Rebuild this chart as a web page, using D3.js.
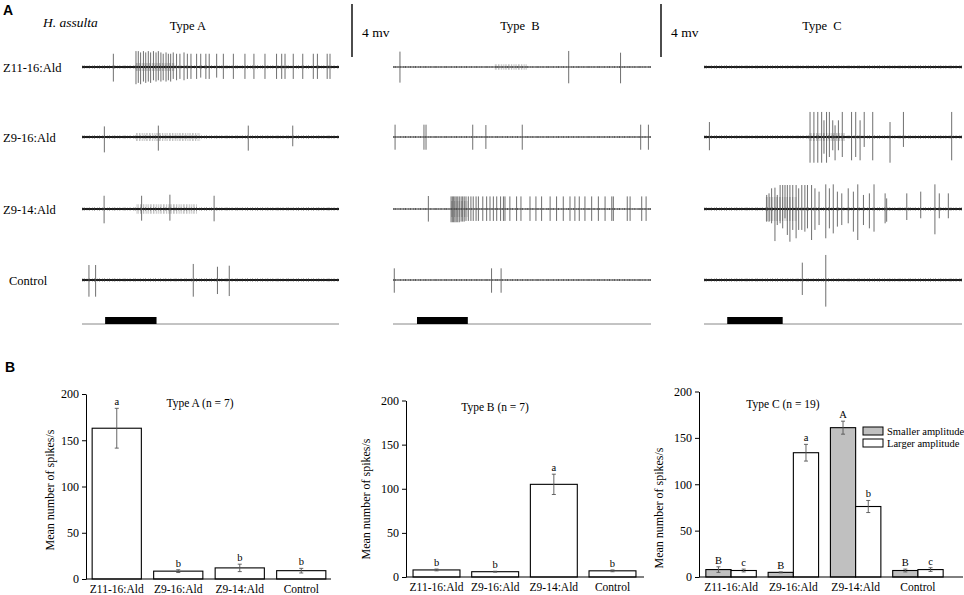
<!DOCTYPE html>
<html>
<head>
<meta charset="utf-8">
<script src="https://cdn.jsdelivr.net/npm/d3@7"></script>
<style>
  body { margin: 0; background: #fff; }
  svg text { font-family: "Liberation Serif", "Times New Roman", serif !important; fill: #000; }
  svg text.panel-letter { font-family: "Liberation Sans", Arial, sans-serif !important; font-weight: bold; }
</style>
</head>
<body>
<svg id="fig" width="964" height="595"></svg>
<script>
// ---- recordings (time in s over a 10 s sweep, spike = [t, up mV, down mV]) ----
const rowNames = ["Z11-16:Ald", "Z9-16:Ald", "Z9-14:Ald", "Control"];
const traceTypes = ["Type A", "Type  B", "Type  C"];

const typeASpikes = [
  [[1.22,1.0,1.1],
   [2.10,1.2,1.3],[2.19,1.2,1.2],[2.28,1.1,1.3],[2.39,1.2,1.1],[2.48,1.1,1.2],[2.58,1.2,1.1],
   [2.67,1.1,1.2],[2.78,1.2,1.0],[2.88,1.1,1.1],[2.97,1.2,1.0],[3.07,1.1,1.1],[3.16,1.0,1.0],
   [3.27,1.1,1.1],[3.36,1.0,1.0],[3.45,1.0,1.1],[3.55,1.1,0.9],[3.68,1.0,1.0],[3.81,1.0,0.9],
   [3.97,1.1,1.0],[4.10,1.0,0.9],[4.24,1.0,0.9],[4.46,1.0,0.9],[4.62,1.0,0.8],[4.82,1.0,0.9],
   [4.95,1.0,0.9],[5.24,1.0,0.8],[5.50,1.0,0.9],[5.89,1.0,0.9],[6.34,1.0,0.9],[6.69,1.0,0.9],
   [7.12,1.0,0.9],[7.57,1.0,0.9],[7.77,1.0,0.9],[7.90,1.0,0.9],[8.22,1.0,0.9],[8.59,1.0,0.9],
   [9.00,1.0,0.9],[9.16,1.0,0.9],[9.54,1.0,0.9],[9.65,1.0,0.9]],
  [[0.87,0.8,1.16],[2.97,0.86,1.03],[6.47,0.86,1.03],[8.20,0.86,0.7]],
  [[0.86,1.0,1.08],[2.32,1.0,0.88],[3.42,1.08,0.88],[5.14,1.0,0.93]],
  [[0.27,1.13,1.26],[0.53,1.13,1.26],[4.33,1.21,1.26],[5.27,1.0,1.06],[5.73,1.08,1.21]]
];
const typeAFuzz = [[[2.1,3.6,0.3]], [[2.1,4.6,0.3]], [[2.13,4.46,0.35]], []];

const typeBSpikes = [
  [[0.27,1.16,1.18],[6.81,1.21,1.23],[8.82,1.08,1.23]],
  [[0.08,0.93,0.96],[1.20,0.93,0.96],[1.28,0.93,0.96],[3.09,0.93,0.96],[3.60,0.9,0.9],
   [5.01,0.93,0.96],[9.60,0.93,0.96],[9.90,0.93,0.96]],
  [[1.37,0.98,0.95],
   [2.25,0.95,1.0],[2.30,0.95,1.0],[2.35,0.95,1.0],[2.40,0.95,1.0],[2.45,0.95,1.0],[2.51,0.95,1.0],
   [2.57,0.95,1.0],[2.64,0.95,0.95],[2.70,0.95,0.95],[2.76,0.95,0.95],[2.83,0.95,0.9],[2.92,0.95,0.9],
   [3.02,0.95,0.9],[3.11,0.95,0.9],[3.22,0.95,0.9],[3.31,0.95,0.9],[3.48,0.95,0.9],[3.63,0.95,0.9],
   [3.76,0.95,0.9],[3.89,0.95,0.9],[4.02,0.95,0.9],[4.17,0.95,0.9],[4.28,0.95,0.9],[4.34,0.95,0.9],
   [4.53,0.95,0.9],[4.79,0.95,0.9],[4.96,0.95,0.9],[5.31,0.95,0.9],[5.54,0.95,0.9],[5.76,0.95,0.9],
   [6.09,0.95,0.9],[6.34,0.95,0.9],[6.60,0.95,0.9],[6.86,0.95,0.9],[7.05,0.95,0.9],[7.22,0.95,0.9],
   [7.44,0.95,0.9],[7.70,0.95,0.9],[7.96,0.95,0.9],[8.22,0.95,0.9],[8.48,0.95,0.9],[8.54,0.95,0.9],
   [9.08,0.95,0.9],[9.19,0.95,0.9],[9.64,0.95,0.9],[9.81,0.95,0.9]],
  [[0.05,0.88,0.96],[3.82,0.88,0.96],[4.19,0.88,0.96]]
];
const typeBFuzz = [[[3.95,5.18,0.2]], [], [[2.25,2.9,0.6]], []];

const typeCSpikes = [
  [],
  [[0.21,1.13,1.0],[4.11,1.89,1.94],[4.26,1.89,1.94],[4.41,1.89,1.94],[4.56,1.89,1.94],
   [4.65,1.26,1.26],[4.75,1.89,1.94],[4.86,1.89,1.51],[4.99,1.26,1.0],[5.08,0.88,1.76],
   [5.21,1.26,1.0],[5.36,1.89,1.51],[5.72,1.89,1.76],[5.88,1.89,1.51],[6.05,1.26,1.76],
   [6.21,1.89,0.75],[6.54,1.89,1.76],[7.21,1.13,1.94],[7.73,1.89,0.75],[9.60,1.89,1.76]],
  [[2.43,1.06,0.96],[2.52,1.18,0.96],[2.62,1.56,1.08],[2.75,1.61,2.42],[2.84,1.06,1.21],
   [2.95,1.81,1.08],[3.05,1.81,1.46],[3.14,1.81,0.70],[3.23,1.81,1.96],[3.33,1.81,2.47],
   [3.44,1.81,1.58],[3.57,1.81,2.21],[3.67,1.56,1.58],[3.79,1.81,1.58],[3.91,1.81,1.71],
   [4.01,1.81,1.46],[4.17,1.81,2.34],[4.30,1.56,1.58],[4.46,1.31,1.21],[4.72,1.86,2.21],
   [4.86,1.56,1.46],[5.01,1.86,1.84],[5.17,1.31,1.33],[5.34,1.18,1.21],[5.59,1.56,1.08],
   [5.79,1.31,1.71],[5.96,1.86,2.34],[6.18,1.06,1.21],[6.41,1.18,1.46],[6.59,1.86,1.71],
   [7.02,1.18,1.08],[7.08,0.80,0.96],[7.86,1.18,0.83],[8.40,1.31,0.70],[8.95,1.86,1.91],
   [9.12,1.18,0.70],[9.47,1.18,0.70]],
  [[3.81,1.31,1.13],[4.72,1.89,2.01]]
];
const typeCFuzz = [[], [[4.1,5.5,0.3]], [[2.4,3.6,0.9]], []];

const stimulusA = [0.9, 2.9];
const stimulusB = [0.93, 2.9];
const stimulusC = [0.9, 3.05];
const noiseLevels = [0.15, 0.07, 0.16];   // baseline noise, mV
const scaleBarMv = 4;

// ---- summary bars (mean spikes/s +- SE) ----
const categories = ["Z11-16:Ald", "Z9-16:Ald", "Z9-14:Ald", "Control"];
const yTicks = [0, 50, 100, 150, 200];

const typeAMeans = [163, 8.5, 12, 9];
const typeAErrs = [21.5, 1.5, 4, 2.5];
const typeALetters = ["a", "b", "b", "b"];

const typeBMeans = [8, 6, 105, 7];
const typeBErrs = [1, 0.5, 11.5, 1];
const typeBLetters = ["b", "b", "a", "b"];

const typeCSmallMeans = [8, 5, 161, 7];
const typeCSmallErrs = [3, 0.5, 7, 1.5];
const typeCSmallLetters = ["B", "B", "A", "B"];
const typeCLargeMeans = [7, 134, 76, 8];
const typeCLargeErrs = [1.5, 9, 6.5, 2];
const typeCLargeLetters = ["c", "a", "b", "c"];
const legendLabels = ["Smaller amplitude", "Larger amplitude"];

// ---------------------------------------------------------------
const SERIF = '"Liberation Serif", "Times New Roman", serif';
const svg = d3.select("#fig");
const mv = d3.scaleLinear().domain([0, scaleBarMv]).range([0, 53]);
const rowBase = [67, 137, 209, 280];

svg.append("text").attr("class", "panel-letter").attr("x", 3).attr("y", 15)
  .attr("font-size", 14).text("A");
svg.append("text").attr("x", 43).attr("y", 27).attr("font-size", 13.5)
  .attr("font-style", "italic").text("H. assulta");

rowNames.forEach((name, i) => {
  svg.append("text").attr("x", i === 3 ? 9 : 3).attr("y", rowBase[i] + 5)
    .attr("font-size", 12.5).text(name);
});

const columns = [
  { spikes: typeASpikes, fuzz: typeAFuzz, stim: stimulusA, range: [82, 339], title: 188 },
  { spikes: typeBSpikes, fuzz: typeBFuzz, stim: stimulusB, range: [393, 651], title: 520 },
  { spikes: typeCSpikes, fuzz: typeCFuzz, stim: stimulusC, range: [704, 962], title: 822 }
];

function drawTrace(g, x, y0, spikes, fuzz, noise) {
  const [r0, r1] = x.range();
  g.selectAll(null).data(fuzz).join("line")
    .attr("x1", d => x(d[0])).attr("x2", d => x(d[1]))
    .attr("y1", y0).attr("y2", y0)
    .attr("stroke", "#999").attr("stroke-width", d => 2 * mv(d[2]))
    .attr("stroke-dasharray", "0.6,0.9,0.4,1.4");
  g.append("line").attr("x1", r0).attr("x2", r1).attr("y1", y0).attr("y2", y0)
    .attr("stroke", "#1a1a1a").attr("stroke-width", Math.max(0.8, mv(noise)));
  g.append("line").attr("x1", r0).attr("x2", r1).attr("y1", y0).attr("y2", y0)
    .attr("stroke", "#333").attr("stroke-width", Math.max(1.4, mv(noise) * 1.45))
    .attr("stroke-dasharray", "0.5,1.3,0.8,2.2,0.4,1.7,0.7,2.6");
  g.selectAll(null).data(spikes).join("line")
    .attr("x1", d => x(d[0])).attr("x2", d => x(d[0]))
    .attr("y1", d => y0 - mv(d[1])).attr("y2", d => y0 + mv(d[2]))
    .attr("stroke", "#555").attr("stroke-width", 0.85);
}

columns.forEach((col, c) => {
  const x = d3.scaleLinear().domain([0, 10]).range(col.range);
  const g = svg.append("g");
  g.append("text").attr("x", col.title).attr("y", 30).attr("text-anchor", "middle")
    .attr("font-size", 12.5).style("white-space", "pre").text(traceTypes[c]);
  rowBase.forEach((y0, r) => drawTrace(g, x, y0, col.spikes[r], col.fuzz[r], noiseLevels[c]));
  // stimulus marker
  g.append("line").attr("x1", col.range[0]).attr("x2", col.range[1])
    .attr("y1", 324).attr("y2", 324).attr("stroke", "#888").attr("stroke-width", 1);
  g.append("rect").attr("x", x(col.stim[0])).attr("y", 317)
    .attr("width", x(col.stim[1]) - x(col.stim[0])).attr("height", 7).attr("fill", "#000");
});

// 4 mV scale bars
[352, 661].forEach(bx => {
  svg.append("line").attr("x1", bx).attr("x2", bx).attr("y1", 4).attr("y2", 4 + mv(scaleBarMv))
    .attr("stroke", "#000").attr("stroke-width", 1.4);
  svg.append("text").attr("x", bx + 10).attr("y", 37).attr("font-size", 13.5).text(scaleBarMv + " mv");
});

// ---------------- panel B ----------------
svg.append("text").attr("class", "panel-letter").attr("x", 5).attr("y", 372)
  .attr("font-size", 14).text("B");

function drawBars(o) {
  const g = svg.append("g");
  const y = d3.scaleLinear().domain([0, 200]).range([o.y0, o.y200]);
  const x = d3.scaleBand().domain(categories).range([o.ax, o.bandEnd])
    .paddingInner(o.padIn).paddingOuter(o.padOut);
  const inner = d3.scaleBand().domain(d3.range(o.series.length)).range([0, x.bandwidth()]);

  o.series.forEach((s, k) => {
    const rows = categories.map((cat, i) => ({ cat, v: s.values[i], e: s.errs[i], l: s.letters[i] }));
    const cx = d => x(d.cat) + inner(k) + inner.bandwidth() / 2;
    g.selectAll(null).data(rows).join("rect")
      .attr("x", d => x(d.cat) + inner(k)).attr("width", inner.bandwidth())
      .attr("y", d => y(d.v)).attr("height", d => y(0) - y(d.v))
      .attr("fill", s.fill).attr("stroke", "#000").attr("stroke-width", 1.1);
    g.selectAll(null).data(rows).join("path")
      .attr("d", d => {
        const t = y(d.v + d.e), b = y(d.v - d.e), m = cx(d);
        return `M${m},${t}V${b}M${m - 2},${t}H${m + 2}M${m - 2},${b}H${m + 2}`;
      })
      .attr("fill", "none").attr("stroke", "#555").attr("stroke-width", 0.9);
    g.selectAll(null).data(rows).join("text")
      .attr("x", cx).attr("y", d => y(d.v + d.e) - 3)
      .attr("text-anchor", "middle").attr("font-size", 10.5).text(d => d.l);
  });

  const yAxis = g.append("g").attr("transform", `translate(${o.ax},0)`)
    .call(d3.axisLeft(y).tickValues(yTicks).tickSize(4).tickSizeOuter(0).tickPadding(3));
  yAxis.attr("font-family", null);
  yAxis.select(".domain").attr("stroke-width", 1);
  yAxis.selectAll("text").attr("font-size", 12).style("font-family", SERIF);

  const xAxis = g.append("g").attr("transform", `translate(0,${y(0)})`)
    .call(d3.axisBottom(x).tickSize(0).tickPadding(6));
  xAxis.attr("font-family", null);
  xAxis.select(".domain").remove();
  xAxis.selectAll("text").attr("font-size", 11.5).style("font-family", SERIF);
  g.append("line").attr("x1", o.ax).attr("x2", o.axisEnd).attr("y1", y(0)).attr("y2", y(0))
    .attr("stroke", "#000").attr("stroke-width", 1);

  g.append("text").attr("x", o.titleX).attr("y", o.titleY).attr("text-anchor", "middle")
    .attr("font-size", 11.5).text(o.title);
  g.append("text").attr("transform", `translate(${o.labelX},${o.labelY}) rotate(-90)`)
    .attr("text-anchor", "middle").attr("font-size", 12).text("Mean number of spikes/s");
  return g;
}

drawBars({
  ax: 86, bandEnd: 332, axisEnd: 331, y0: 579, y200: 394, padIn: 0.2, padOut: 0.1,
  series: [{ values: typeAMeans, errs: typeAErrs, letters: typeALetters, fill: "#fff" }],
  title: "Type A (n = 7)", titleX: 200, titleY: 407, labelX: 54, labelY: 490
});

drawBars({
  ax: 406, bandEnd: 643, axisEnd: 644, y0: 577, y200: 400.5, padIn: 0.2, padOut: 0.12,
  series: [{ values: typeBMeans, errs: typeBErrs, letters: typeBLetters, fill: "#fff" }],
  title: "Type B (n = 7)", titleX: 495, titleY: 411, labelX: 370, labelY: 499
});

const gC = drawBars({
  ax: 699, bandEnd: 950, axisEnd: 963, y0: 577, y200: 391.5, padIn: 0.19, padOut: 0.11,
  series: [
    { values: typeCSmallMeans, errs: typeCSmallErrs, letters: typeCSmallLetters, fill: "#c0c0c0" },
    { values: typeCLargeMeans, errs: typeCLargeErrs, letters: typeCLargeLetters, fill: "#fff" }
  ],
  title: "Type C (n = 19)", titleX: 783, titleY: 408, labelX: 663, labelY: 508
});

legendLabels.forEach((lab, i) => {
  gC.append("rect").attr("x", 863).attr("y", 427 + i * 12).attr("width", 20).attr("height", 8)
    .attr("fill", i ? "#fff" : "#c0c0c0").attr("stroke", "#000").attr("stroke-width", 1);
  gC.append("text").attr("x", 887).attr("y", 435 + i * 12).attr("font-size", 10.5).text(lab);
});
</script>
</body>
</html>
